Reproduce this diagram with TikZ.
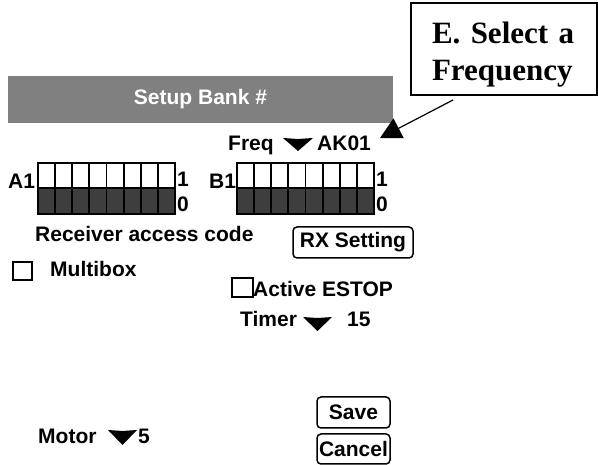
\documentclass[tikz,border=0pt]{standalone}
\usepackage{fontspec}
\setmainfont{Liberation Sans}
\newfontfamily\timesfont{Liberation Serif}
\usetikzlibrary{arrows.meta}
\definecolor{bargray}{RGB}{128,128,128}
\definecolor{dipdark}{RGB}{62,62,62}
\newcommand\ddtri[4]{\fill (#1,#2) -- ({(#1+#3)/2},#2+1) -- (#3,#2) -- ({(#1+#3)/2},#4) -- cycle;}
\begin{document}
\begin{tikzpicture}[x=1pt,y=-1pt,
  lbl/.style={inner sep=0pt, anchor=base west, font=\fontsize{21}{25}\selectfont\bfseries},
  button/.style={draw, line width=1.5pt, rounded corners=4pt, inner sep=0pt,
                 font=\fontsize{21}{25}\selectfont\bfseries},
  chk/.style={draw, line width=1.2pt, inner sep=0pt},
  dipcell/.style={draw=black, line width=1.8pt}]
\useasboundingbox (0,0) rectangle (598,465);

% header bar
\node[fill=bargray, text=white, inner sep=0pt, minimum width=385pt, minimum height=47pt,
      font=\fontsize{21}{25}\selectfont\bfseries] (bar) at (200.5,99.5) {Setup Bank \#};

% callout
\node[draw, line width=2pt, inner xsep=21pt, inner ysep=0pt, text width=144pt,
      minimum height=92pt, align=left,
      font=\timesfont\fontsize{31}{37}\selectfont\bfseries] (callout) at (504,49)
      {\rule{0pt}{33pt}E. Select a\\Frequency};
\coordinate (arrowstart) at (453,100);
\coordinate (arrowtip) at (380,138);
\draw[line width=1.2pt, -{Triangle[length=21pt,width=22pt]}] (arrowstart) -- (arrowtip);

% frequency
\node[lbl] (freq) at (228,151) {Freq};
\ddtri{283}{138}{313}{151}
\node[lbl] (ak) at (317,151) {AK01};

% DIP switches A
\node[lbl] (a1) at (8,189) {A1};
\foreach \i in {0,...,7}{
  \draw[dipcell, fill=white] (38+\i*17.125,163) rectangle ++(17.125,25);
  \draw[dipcell, fill=dipdark] (38+\i*17.125,188) rectangle ++(17.125,26);
}
\draw[line width=2pt] (38,163) rectangle (175,214);
\node[lbl] (a1one) at (177,187) {1};
\node[lbl] (a1zero) at (177,212) {0};

% DIP switches B
\node[lbl] (b1) at (209,189) {B1};
\foreach \i in {0,...,7}{
  \draw[dipcell, fill=white] (237+\i*17.125,163) rectangle ++(17.125,25);
  \draw[dipcell, fill=dipdark] (237+\i*17.125,188) rectangle ++(17.125,26);
}
\draw[line width=2pt] (237,163) rectangle (374,214);
\node[lbl] (b1one) at (376,187) {1};
\node[lbl] (b1zero) at (376,212) {0};

\node[lbl] (rac) at (35,242) {Receiver access code};
\node[button, minimum width=120pt, minimum height=31pt] (rx) at (353,242.5) {RX Setting};

% checkboxes
\node[chk, minimum width=19pt, minimum height=18pt] (mbchk) at (22.5,271) {};
\node[lbl] (mb) at (50,277) {Multibox};
\node[chk, minimum width=21pt, minimum height=19pt] (eschk) at (242.5,287.5) {};
\node[lbl] (es) at (253,297) {Active ESTOP};

% timer
\node[lbl] (timer) at (240,327) {Timer};
\ddtri{303}{317}{332}{331}
\node[lbl] (fifteen) at (347,327) {15};

% buttons
\node[button, minimum width=73pt, minimum height=31pt] (save) at (353.5,412.5) {Save};
\node[button, minimum width=73pt, minimum height=30pt] (cancel) at (353.5,449) {Cancel};

% motor
\node[lbl] (motor) at (38,444) {Motor};
\ddtri{108}{430}{137}{445}
\node[lbl] (five) at (138,444) {5};
\end{tikzpicture}
\end{document}
